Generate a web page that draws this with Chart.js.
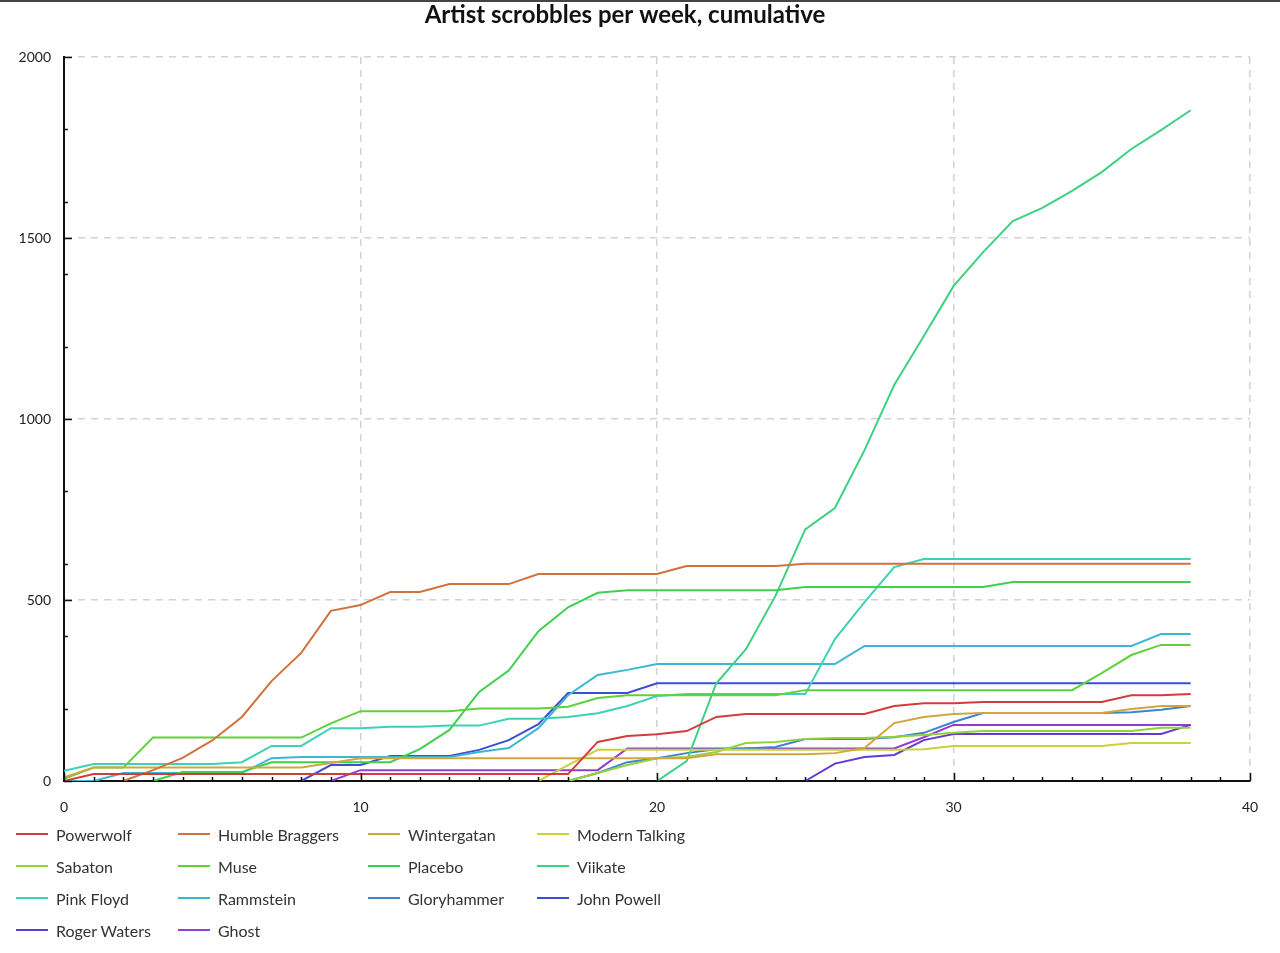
<!DOCTYPE html>
<html>
<head>
<meta charset="utf-8">
<title>Artist scrobbles per week, cumulative</title>
<script src="https://cdn.jsdelivr.net/npm/chart.js@4"></script>
<style>
    html, body { margin: 0; padding: 0; background: #fff; }
    body { width: 1280px; height: 953px; position: relative; overflow: hidden; }
    #topline { position: absolute; left: 0; top: 0; width: 1280px; height: 2px; background: #444; z-index: 2; }
    #wrap { position: absolute; left: 0; top: 0; width: 1280px; height: 820px; }
    #legend {
        position: absolute; left: 16px; top: 818px;
        display: grid; grid-template-columns: 162px 190px 169px max-content;
        font: 16px Lato, sans-serif; color: #333;
    }
    .item { display: flex; align-items: center; height: 32px; }
    .swatch { width: 32px; height: 2px; margin-right: 8px; }
</style>
</head>
<body>
<div id="topline"></div>
<div id="wrap"><canvas id="chart" width="1280" height="820"></canvas></div>
<div id="legend"></div>
<script>
(function () {
    'use strict';

    var weeks = [0, 1, 2, 3, 4, 5, 6, 7, 8, 9, 10, 11, 12, 13, 14, 15, 16, 17, 18, 19,
        20, 21, 22, 23, 24, 25, 26, 27, 28, 29, 30, 31, 32, 33, 34, 35, 36, 37, 38];

    var powerwolf = [0, 19, 19, 19, 19, 19, 19, 19, 19, 19,
        19, 19, 19, 19, 19, 19, 19, 19, 108, 124,
        129, 138, 177, 185, 185, 185, 185, 185, 207, 215,
        215, 218, 218, 218, 218, 218, 237, 237, 240];
    var humbleBraggers = [null, null, 0, 30, 64, 112, 177, 276, 354, 470,
        486, 522, 522, 544, 544, 544, 572, 572, 572, 572,
        572, 594, 594, 594, 594, 600, 600, 600, 600, 600,
        600, 600, 600, 600, 600, 600, 600, 600, 600];
    var wintergatan = [10, 37, 37, 37, 37, 37, 37, 37, 37, 50,
        63, 63, 63, 63, 63, 63, 63, 63, 63, 63,
        63, 63, 74, 74, 74, 74, 77, 91, 160, 177,
        185, 188, 188, 188, 188, 188, 199, 207, 207];
    var modernTalking = [null, null, null, null, null, null, null, null, null, null,
        null, null, null, null, null, null, 0, 44, 86, 86,
        86, 86, 86, 86, 86, 86, 86, 86, 86, 88,
        97, 97, 97, 97, 97, 97, 105, 105, 105];
    var sabaton = [null, null, null, null, null, null, null, null, null, null,
        null, null, null, null, null, null, null, 0, 22, 44,
        63, 66, 80, 105, 108, 116, 119, 119, 122, 127,
        133, 138, 138, 138, 138, 138, 138, 147, 147];
    var muse = [6, 37, 37, 120, 120, 120, 120, 120, 120, 159,
        193, 193, 193, 193, 200, 200, 200, 205, 229, 237,
        237, 237, 237, 237, 237, 251, 251, 251, 251, 251,
        251, 251, 251, 251, 251, 298, 348, 376, 376];
    var placebo = [null, null, null, 0, 25, 25, 25, 52, 52, 52,
        52, 52, 88, 141, 246, 305, 414, 480, 520, 527,
        527, 527, 527, 527, 527, 536, 536, 536, 536, 536,
        536, 536, 550, 550, 550, 550, 550, 550, 550];
    var viikate = [null, null, null, null, null, null, null, null, null, null,
        null, null, null, null, null, null, null, null, null, null,
        0, 55, 270, 364, 512, 695, 754, 914, 1094, 1229,
        1367, 1461, 1547, 1583, 1630, 1682, 1746, 1798, 1853];
    var pinkFloyd = [28, 47, 47, 47, 47, 47, 52, 97, 97, 146,
        146, 150, 150, 153, 153, 172, 172, 177, 187, 207,
        235, 240, 240, 240, 240, 240, 392, 494, 591, 613,
        613, 613, 613, 613, 613, 613, 613, 613, 613];
    var rammstein = [0, 0, 22, 22, 22, 22, 22, 63, 66, 66,
        66, 66, 66, 66, 80, 91, 146, 237, 293, 307,
        323, 323, 323, 323, 323, 323, 323, 373, 373, 373,
        373, 373, 373, 373, 373, 373, 373, 406, 406];
    var gloryhammer = [null, null, null, null, null, null, null, null, null, null,
        null, null, null, null, null, null, null, 0, 22, 52,
        63, 77, 88, 90, 94, 116, 116, 116, 121, 133,
        163, 188, 188, 188, 188, 188, 190, 197, 207];
    var johnPowell = [null, null, null, null, null, null, null, null, 0, 44,
        44, 69, 69, 69, 86, 113, 157, 243, 243, 243,
        270, 270, 270, 270, 270, 270, 270, 270, 270, 270,
        270, 270, 270, 270, 270, 270, 270, 270, 270];
    var rogerWaters = [null, null, null, null, null, null, null, null, null, null,
        null, null, null, null, null, null, null, null, null, null,
        null, null, null, null, null, 0, 48, 66, 72, 113,
        130, 130, 130, 130, 130, 130, 130, 130, 155];
    var ghost = [null, null, null, null, null, null, null, null, null, 0,
        30, 30, 30, 30, 30, 30, 30, 30, 30, 90,
        90, 90, 90, 90, 90, 90, 90, 90, 90, 121,
        155, 155, 155, 155, 155, 155, 155, 155, 155];

    var artists = ['Powerwolf', 'Humble Braggers', 'Wintergatan', 'Modern Talking',
        'Sabaton', 'Muse', 'Placebo', 'Viikate', 'Pink Floyd', 'Rammstein',
        'Gloryhammer', 'John Powell', 'Roger Waters', 'Ghost'];
    var series = [powerwolf, humbleBraggers, wintergatan, modernTalking, sabaton, muse,
        placebo, viikate, pinkFloyd, rammstein, gloryhammer, johnPowell, rogerWaters, ghost];

    // one hue per artist, evenly spaced from red towards violet
    var colors = artists.map(function (a, i) {
        return 'hsl(' + (i * 360 / 17).toFixed(1) + ', 62%, 53%)';
    });

    var xTicks = [0, 10, 20, 30, 40];
    var yTicks = [0, 500, 1000, 1500, 2000];

    // short inward tick marks: every week on x, every 200 on y, longer at labelled values
    var axisTicks = {
        id: 'axisTicks',
        afterDraw: function (chart) {
            var ctx = chart.ctx, xs = chart.scales.x, ys = chart.scales.y, area = chart.chartArea;
            ctx.save();
            ctx.strokeStyle = '#111';
            ctx.lineWidth = 1.5;
            ctx.beginPath();
            for (var w = xs.min; w <= xs.max; w += 1) {
                var px = Math.round(xs.getPixelForValue(w)) + 0.5;
                var len = xTicks.indexOf(w) >= 0 ? 8 : 4;
                ctx.moveTo(px, area.bottom);
                ctx.lineTo(px, area.bottom - len);
            }
            for (var v = ys.min; v <= ys.max; v += 100) {
                var major = yTicks.indexOf(v) >= 0;
                if (!major && v % 200 !== 0) continue;
                var py = Math.round(ys.getPixelForValue(v)) + 0.5;
                ctx.moveTo(area.left, py);
                ctx.lineTo(area.left + (major ? 8 : 4), py);
            }
            ctx.stroke();
            ctx.restore();
        }
    };

    var font = 'Lato, sans-serif';
    var plain = function (v) { return String(v); };

    var chart = new Chart(document.getElementById('chart'), {
        type: 'line',
        data: {
            labels: weeks,
            datasets: artists.map(function (name, i) {
                return {
                    label: name,
                    data: series[i],
                    borderColor: colors[i],
                    backgroundColor: colors[i],
                    borderWidth: 2,
                    pointRadius: 0,
                    tension: 0,
                    fill: false
                };
            })
        },
        options: {
            responsive: false,
            animation: false,
            events: [],
            layout: { padding: { left: 0, right: 30, top: 0, bottom: 0 } },
            plugins: {
                legend: { display: false },
                tooltip: { enabled: false },
                title: {
                    display: true,
                    text: 'Artist scrobbles per week, cumulative',
                    color: '#111',
                    font: { family: font, size: 24, weight: 'bold' },
                    padding: { top: 1, bottom: 27.2 }
                }
            },
            scales: {
                x: {
                    type: 'linear',
                    min: 0,
                    max: 40,
                    afterFit: function (s) { s.height = 39; },
                    ticks: { stepSize: 10, color: '#222', font: { family: font, size: 14 }, padding: 18, maxRotation: 0, callback: plain },
                    grid: { color: '#d2d2d2', lineWidth: 1.5, drawTicks: false },
                    border: { display: true, color: '#111', width: 2, dash: [7, 6] }
                },
                y: {
                    min: 0,
                    max: 2000,
                    afterFit: function (s) { s.width = 64; },
                    ticks: { stepSize: 500, color: '#222', font: { family: font, size: 14 }, padding: 13, callback: plain },
                    grid: { color: '#d2d2d2', lineWidth: 1.5, drawTicks: false },
                    border: { display: true, color: '#111', width: 2, dash: [7, 6] }
                }
            }
        },
        plugins: [axisTicks]
    });

    // legend in fixed columns, built from the chart's datasets
    var legend = document.getElementById('legend');
    chart.data.datasets.forEach(function (ds) {
        var item = document.createElement('div');
        item.className = 'item';
        var sw = document.createElement('span');
        sw.className = 'swatch';
        sw.style.background = ds.borderColor;
        var label = document.createElement('span');
        label.textContent = ds.label;
        item.appendChild(sw);
        item.appendChild(label);
        legend.appendChild(item);
    });
})();
</script>
</body>
</html>
